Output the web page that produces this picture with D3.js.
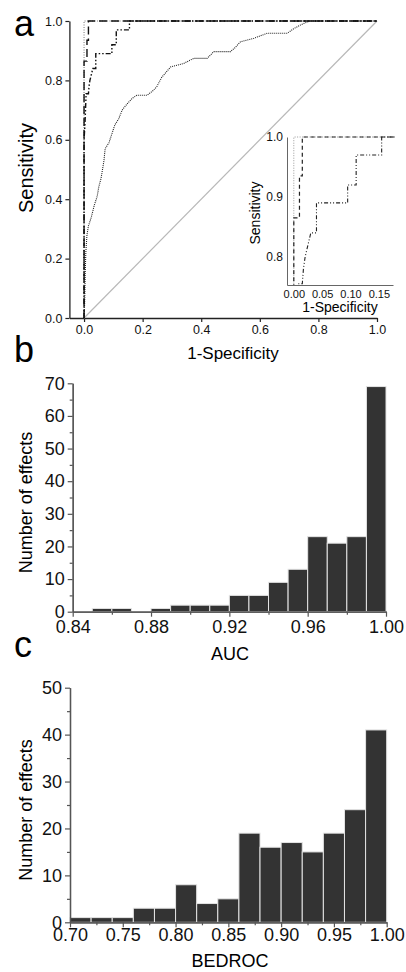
<!DOCTYPE html>
<html lang="en">
<head>
<meta charset="UTF-8">
<title>ROC curves and AUC / BEDROC histograms</title>
<script src="https://cdn.jsdelivr.net/npm/d3@7"></script>
<style>
body{margin:0;background:#fff;}
svg{display:block;font-family:Arial,'Liberation Sans',sans-serif;}
</style>
</head>
<body>
<div id="grafica"></div>
<script>
// ROC curves as [1-specificity, sensitivity]
rocDotted = [[0,0],[0.002,0.05],[0.004,0.15],[0.006,0.22],[0.01,0.28],[0.015,0.31],[0.025,0.34],[0.035,0.38],[0.045,0.41],[0.05,0.44],[0.058,0.47],[0.063,0.5],[0.068,0.53],[0.072,0.57],[0.085,0.59],[0.095,0.62],[0.105,0.65],[0.118,0.67],[0.13,0.7],[0.146,0.72],[0.165,0.74],[0.18,0.75],[0.215,0.75],[0.235,0.765],[0.249,0.78],[0.265,0.81],[0.295,0.845],[0.34,0.857],[0.374,0.874],[0.42,0.874],[0.443,0.897],[0.5,0.897],[0.515,0.91],[0.534,0.93],[0.58,0.942],[0.626,0.959],[0.694,0.959],[0.717,0.975],[0.746,0.99],[0.77,1],[1,1]]
rocDashDot = [[0,0],[0,0.6],[0.003,0.65],[0.005,0.7],[0.007,0.755],[0.015,0.755],[0.017,0.78],[0.02,0.8],[0.025,0.82],[0.03,0.84],[0.04,0.84],[0.04,0.89],[0.095,0.89],[0.095,0.92],[0.11,0.92],[0.11,0.97],[0.155,0.97],[0.155,1],[1,1]]
rocDashed = [[0,0],[0,0.865],[0.01,0.865],[0.01,0.935],[0.015,0.935],[0.015,1],[1,1]]
rocFine = [[0,0],[0,1],[1,1]]
diagonal = [[0,0],[1,1]]

// histogram bins (left edge) and counts
aucBins = [0.85,0.86,0.87,0.88,0.89,0.90,0.91,0.92,0.93,0.94,0.95,0.96,0.97,0.98,0.99]
aucCounts = [1,1,0,1,2,2,2,5,5,9,13,23,21,23,69]
bedrocBins = [0.70,0.72,0.74,0.76,0.78,0.80,0.82,0.84,0.86,0.88,0.90,0.92,0.94,0.96,0.98]
bedrocCounts = [1,1,1,3,3,8,4,5,19,16,17,15,19,24,41]

// ticks
rocTicks = [0,0.2,0.4,0.6,0.8,1.0]
insetXTicks = [0,0.05,0.10,0.15]
insetYTicks = [0.8,0.9,1.0]
aucTicks = [0.84,0.88,0.92,0.96,1.00]
aucMinor = [0.86,0.90,0.94,0.98]
aucYTicks = [0,10,20,30,40,50,60,70]
aucYMinor = [5,15,25,35,45,55,65]
bedrocTicks = [0.70,0.75,0.80,0.85,0.90,0.95,1.00]
bedrocMinor = [0.725,0.775,0.825,0.875,0.925,0.975]
bedrocYTicks = [0,10,20,30,40,50]
bedrocYMinor = [5,15,25,35,45]

W = 406
H = 972
svg = d3.select('#grafica').append('svg').attr('width',W).attr('height',H)

function styleAxis(g, size, color) {
	g.attr('font-size', size)
	 .attr('font-family', 'Arial, Liberation Sans, sans-serif')
	 .attr('color', color)
	g.select('.domain').attr('stroke-width', 1.3)
	g.selectAll('.tick line').attr('stroke-width', 1.2)
	g.selectAll('.tick text').attr('fill', '#111')
}

// ---------- panel a ----------
x = d3.scaleLinear().domain([-0.05,1]).range([69.4,377])
y = d3.scaleLinear().domain([0,1]).range([318,21])

xa = svg.append('g').attr('transform','translate(0,318)')
	.call(d3.axisBottom(x).tickValues(rocTicks).tickFormat(d3.format('.1f')).tickSize(4).tickPadding(3).tickSizeOuter(0))
styleAxis(xa, 12.5, '#222')
ya = svg.append('g').attr('transform','translate(69.4,0)')
	.call(d3.axisLeft(y).tickValues(rocTicks).tickFormat(d3.format('.1f')).tickSize(4).tickPadding(3).tickSizeOuter(0))
styleAxis(ya, 12.5, '#222')

linea = d3.line().x(d=>x(d[0])).y(d=>y(d[1]))

svg.append('path').attr('d', linea(diagonal)).attr('fill','none').attr('stroke','#b8b8b8').attr('stroke-width',1.2)
svg.append('path').attr('d', linea(rocDotted)).attr('fill','none').attr('stroke','#222').attr('stroke-width',1.1).attr('stroke-dasharray','1,1')
svg.append('path').attr('d', linea(rocFine)).attr('fill','none').attr('stroke','#777').attr('stroke-width',1).attr('stroke-dasharray','1,1.5')
svg.append('path').attr('d', linea(rocDashDot)).attr('fill','none').attr('stroke','#111').attr('stroke-width',1.4).attr('stroke-dasharray','5,2,1.5,2,1.5,2')
svg.append('path').attr('d', linea(rocDashed)).attr('fill','none').attr('stroke','#111').attr('stroke-width',1.4).attr('stroke-dasharray','8,4')

svg.append('text').attr('x',233).attr('y',359).attr('text-anchor','middle').attr('font-size',17).text('1-Specificity')
svg.append('text').attr('transform','translate(33,168) rotate(-90)').attr('text-anchor','middle').attr('font-size',20).text('Sensitivity')
svg.append('text').attr('x',14).attr('y',36).attr('font-size',36).text('a')

// inset
xi = d3.scaleLinear().domain([-0.012,0.175]).range([287,393])
yi = d3.scaleLinear().domain([0.753,1.0]).range([285,137])

svg.append('clipPath').attr('id','clipInset').append('rect')
	.attr('x',287).attr('y',135).attr('width',108).attr('height',150)

xia = svg.append('g').attr('transform','translate(0,285)')
	.call(d3.axisBottom(xi).tickValues(insetXTicks).tickFormat(d3.format('.2f')).tickSize(0).tickPadding(5).tickSizeOuter(0))
styleAxis(xia, 11, '#666')
xia.select('.domain').attr('stroke-width',1)
yia = svg.append('g').attr('transform','translate(287,0)')
	.call(d3.axisLeft(yi).tickValues(insetYTicks).tickFormat(d3.format('.1f')).tickSize(0).tickPadding(4).tickSizeOuter(0))
styleAxis(yia, 12, '#666')
yia.select('.domain').attr('stroke-width',1)

lineaI = d3.line().x(d=>xi(d[0])).y(d=>yi(d[1]))
inset = svg.append('g').attr('clip-path','url(#clipInset)')
inset.append('path').attr('d', lineaI(rocFine)).attr('fill','none').attr('stroke','#999').attr('stroke-width',1).attr('stroke-dasharray','1,1.5')
inset.append('path').attr('d', lineaI(rocDashed)).attr('fill','none').attr('stroke','#222').attr('stroke-width',1.2).attr('stroke-dasharray','4,3')
inset.append('path').attr('d', lineaI(rocDashDot)).attr('fill','none').attr('stroke','#222').attr('stroke-width',1.1).attr('stroke-dasharray','4,2,1,2,1,2')

svg.append('text').attr('x',340).attr('y',312).attr('text-anchor','middle').attr('font-size',14).text('1-Specificity')
svg.append('text').attr('transform','translate(260,213) rotate(-90)').attr('text-anchor','middle').attr('font-size',14).text('Sensitivity')

// ---------- histograms ----------
function histogram(bins, counts, w, xDom, xR, yMax, y0, y1, ticks, minor, yTicks, yMinor, pad, xlab, xlabY, letter, letterY) {
	const hx = d3.scaleLinear().domain(xDom).range(xR)
	const hy = d3.scaleLinear().domain([0,yMax]).range([y0,y1])

	svg.append('g').selectAll('rect').data(bins).join('rect')
		.attr('x', d=>hx(d))
		.attr('width', d=>hx(d+w)-hx(d))
		.attr('y', (d,i)=>hy(counts[i]))
		.attr('height', (d,i)=>hy(0)-hy(counts[i]))
		.attr('fill','#333')
		.attr('stroke','#e4e4e4')
		.attr('stroke-width',1)

	const xm = svg.append('g').attr('transform','translate(0,'+y0+')')
		.call(d3.axisBottom(hx).tickValues(minor).tickFormat('').tickSize(3).tickSizeOuter(0))
	styleAxis(xm, 18, '#555')
	const xg = svg.append('g').attr('transform','translate(0,'+y0+')')
		.call(d3.axisBottom(hx).tickValues(ticks).tickFormat(d3.format('.2f')).tickSize(5).tickPadding(pad).tickSizeOuter(0))
	styleAxis(xg, 18, '#555')
	const ym = svg.append('g').attr('transform','translate('+xR[0]+',0)')
		.call(d3.axisLeft(hy).tickValues(yMinor).tickFormat('').tickSize(3).tickSizeOuter(0))
	styleAxis(ym, 18, '#555')
	const yg = svg.append('g').attr('transform','translate('+xR[0]+',0)')
		.call(d3.axisLeft(hy).tickValues(yTicks).tickFormat(d3.format('d')).tickSize(5).tickPadding(3).tickSizeOuter(0))
	styleAxis(yg, 18, '#555')

	svg.append('text').attr('x',230).attr('y',xlabY).attr('text-anchor','middle').attr('font-size',18).text(xlab)
	svg.append('text').attr('transform','translate('+32+','+((y0+y1)/2+5)+') rotate(-90)')
		.attr('text-anchor','middle').attr('font-size',18).text('Number of effects')
	svg.append('text').attr('x',14).attr('y',letterY).attr('font-size',36).text(letter)
}

histogram(aucBins, aucCounts, 0.01, [0.84,1.00], [72.7,386], 70, 611.7, 383.3,
	aucTicks, aucMinor, aucYTicks, aucYMinor, 4, 'AUC', 660, 'b', 362)
histogram(bedrocBins, bedrocCounts, 0.02, [0.70,1.00], [70,386.7], 50, 922.3, 687.7,
	bedrocTicks, bedrocMinor, bedrocYTicks, bedrocYMinor, 1, 'BEDROC', 967, 'c', 657)
</script>
</body>
</html>
